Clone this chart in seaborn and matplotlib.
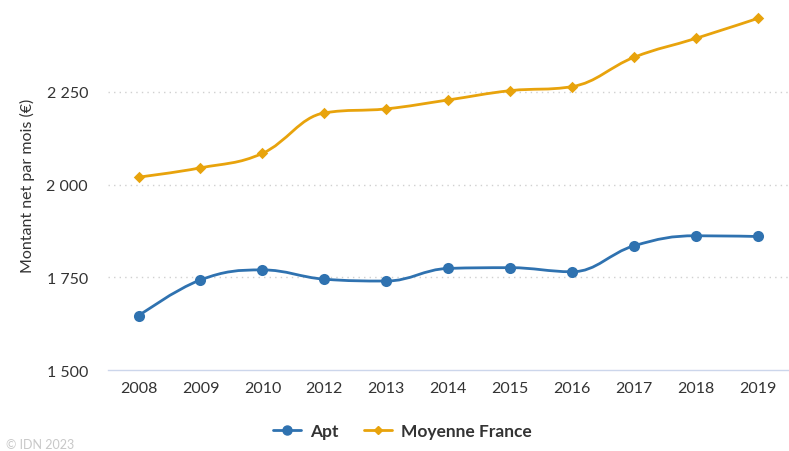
import numpy as np
import matplotlib
matplotlib.use('Agg')
import matplotlib.pyplot as plt
import seaborn as sns
from matplotlib.path import Path
from matplotlib.patches import PathPatch
from matplotlib.lines import Line2D

years = ['2008', '2009', '2010', '2012', '2013', '2014', '2015', '2016', '2017', '2018', '2019']
apt = [1646, 1743, 1770, 1745, 1740, 1774, 1776, 1765, 1835, 1862, 1860]
france = [2020, 2045, 2084, 2193, 2204, 2228, 2253, 2264, 2343, 2394, 2448]

C_APT = '#2f72b0'
C_FR = '#e8a30c'
TXT = '#333333'


def spline_path(xs, ys, smoothing=1.5):
    # same control point rule as a Highcharts "spline" series
    denom = smoothing + 1
    n = len(xs)
    left = [None] * n
    right = [None] * n
    for i in range(1, n - 1):
        px, py = xs[i], ys[i]
        lx, ly = xs[i - 1], ys[i - 1]
        nx, ny = xs[i + 1], ys[i + 1]
        lcx = (smoothing * px + lx) / denom
        lcy = (smoothing * py + ly) / denom
        rcx = (smoothing * px + nx) / denom
        rcy = (smoothing * py + ny) / denom
        if rcx != lcx:
            corr = (rcy - lcy) * (rcx - px) / (rcx - lcx) + py - rcy
            lcy += corr
            rcy += corr
        if lcy > ly and lcy > py:
            lcy = max(ly, py)
            rcy = 2 * py - lcy
        elif lcy < ly and lcy < py:
            lcy = min(ly, py)
            rcy = 2 * py - lcy
        if rcy > ny and rcy > py:
            rcy = max(ny, py)
            lcy = 2 * py - rcy
        elif rcy < ny and rcy < py:
            rcy = min(ny, py)
            lcy = 2 * py - rcy
        left[i] = (lcx, lcy)
        right[i] = (rcx, rcy)
    verts = [(xs[0], ys[0])]
    codes = [Path.MOVETO]
    for i in range(1, n):
        c1 = right[i - 1] or (xs[i - 1], ys[i - 1])
        c2 = left[i] or (xs[i], ys[i])
        verts += [c1, c2, (xs[i], ys[i])]
        codes += [Path.CURVE4] * 3
    return Path(verts, codes)


sns.set_style('white')
plt.rcParams['font.family'] = ['Lato', 'DejaVu Sans']

fig = plt.figure(figsize=(7.89, 4.52), dpi=100)
ax = fig.add_axes([0.1363, 0.179, 0.8637, 0.821])

x = np.arange(len(years))
for vals, col, mk, ms in [(apt, C_APT, 'o', 64), (france, C_FR, 'D', 34)]:
    ax.add_patch(PathPatch(spline_path(list(x), vals), fill=False, edgecolor=col,
                           lw=2, zorder=3, capstyle='round', joinstyle='round'))
    sns.scatterplot(x=x, y=vals, ax=ax, color=col, marker=mk, s=ms,
                    edgecolor=col, linewidth=0, zorder=4, legend=False)

ax.set_xlim(-0.5, len(years) - 0.5)
ax.set_ylim(1500, 2500)
ax.set_yticks([1500, 1750, 2000, 2250])
ax.set_yticklabels(['1 500', '1 750', '2 000', '2 250'])
ax.set_xticks(x)
ax.set_xticklabels(years)
ax.set_xticks(np.arange(-0.5, len(years)), minor=True)

for v in [1750, 2000, 2250]:
    ax.axhline(v, color='#d0d0d0', lw=1, ls=(0, (1, 3)), zorder=1)

for s in ['top', 'right', 'left']:
    ax.spines[s].set_visible(False)
ax.spines['bottom'].set_color('#ccd6eb')
ax.spines['bottom'].set_linewidth(1)

ax.tick_params(axis='x', which='major', length=0, pad=8, labelsize=11.5, labelcolor=TXT)
ax.tick_params(axis='x', which='minor', length=11, width=1, color='#ccd6eb')
ax.tick_params(axis='y', length=0, pad=14, labelsize=11.5, labelcolor=TXT)
ax.set_ylabel('Montant net par mois (€)', fontsize=11.5, color=TXT, labelpad=8)

handles = [
    Line2D([], [], color=C_APT, lw=2, marker='o', markersize=6.5),
    Line2D([], [], color=C_FR, lw=2, marker='D', markersize=4.5),
]
fig.legend(handles, ['Apt', 'Moyenne France'], loc='center', bbox_to_anchor=(0.51, 0.044),
           ncol=2, frameon=False, handlelength=1.6, handletextpad=0.5, columnspacing=1.5,
           prop={'size': 12.5, 'weight': 'bold'}, labelcolor=TXT)

fig.text(0.008, 0.002, '© IDN 2023', fontsize=9, color='#c8c8c8', ha='left', va='bottom')

fig.savefig('out.png', dpi=100)
